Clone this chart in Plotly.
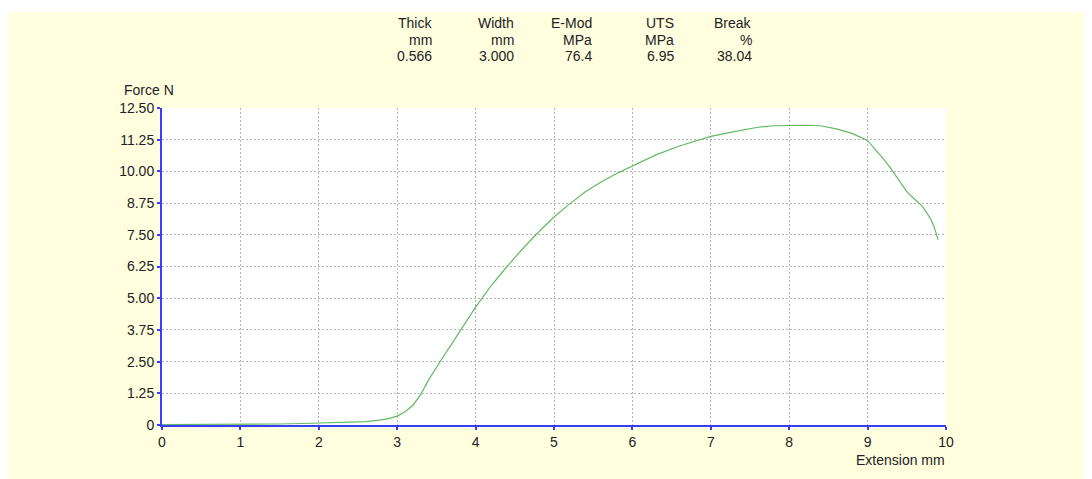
import plotly.graph_objects as go

extension_mm = [0, 0.5, 1.0, 1.5, 1.8, 2.0, 2.2, 2.4, 2.6, 2.8, 2.9, 3.0, 3.1, 3.2, 3.3, 3.4, 3.5,
                3.6, 3.7, 3.8, 3.9, 4.0, 4.2, 4.4, 4.6, 4.8, 5.0, 5.2, 5.4, 5.6, 5.8, 6.0, 6.3,
                6.6, 7.0, 7.3, 7.6, 7.8, 8.0, 8.2, 8.4, 8.6, 8.8, 9.0, 9.1, 9.2, 9.3, 9.4, 9.5,
                9.6, 9.7, 9.8, 9.85, 9.9]
force_n = [0.02, 0.02, 0.03, 0.04, 0.06, 0.07, 0.08, 0.10, 0.13, 0.20, 0.26, 0.35, 0.52, 0.78,
           1.20, 1.78, 2.28, 2.75, 3.22, 3.70, 4.18, 4.65, 5.50, 6.25, 6.95, 7.60, 8.20, 8.72,
           9.20, 9.58, 9.92, 10.22, 10.65, 11.00, 11.38, 11.57, 11.74, 11.80, 11.82, 11.82,
           11.80, 11.68, 11.50, 11.22, 10.85, 10.50, 10.10, 9.65, 9.20, 8.90, 8.62, 8.15, 7.80,
           7.30]

y_ticks = [0, 1.25, 2.5, 3.75, 5.0, 6.25, 7.5, 8.75, 10.0, 11.25, 12.5]
y_ticktext = ["0", "1.25", "2.50", "3.75", "5.00", "6.25", "7.50", "8.75", "10.00", "11.25", "12.50"]
x_ticks = list(range(0, 11))

header_cols = ["Thick", "Width", "E-Mod", "UTS", "Break"]
header_units = ["mm", "mm", "MPa", "MPa", "%"]
header_vals = ["0.566", "3.000", "76.4", "6.95", "38.04"]
header_right_px = [433, 515, 593, 675, 753]

OFF = 8  # page body margin
W, H = 1092 - OFF, 479 - OFF
L, R, T, B = 162 - OFF, 946 - OFF, 108 - OFF, 425 - OFF
pw, ph = R - L, B - T

def px(x):
    return (x - OFF - L) / pw

def py(y):
    return (B - (y - OFF)) / ph

BLUE = "#3c3cff"
YEL = "#ffffe0"
FONT = "Liberation Sans, Arial, sans-serif"
FS = 14
GRID_DASH = "2px,2px"

fig = go.Figure()
fig.add_trace(go.Scatter(x=extension_mm, y=force_n, mode="lines",
                         line=dict(color="#62ba62", width=1.2), showlegend=False,
                         hoverinfo="skip"))

ann = []
for i, c in enumerate(header_cols):
    for j, t in enumerate([c, header_units[i], header_vals[i]]):
        ann.append(dict(text=t, xref="paper", yref="paper", x=px(header_right_px[i] + 1),
                        y=py([23, 40, 56][j]), xanchor="right", yanchor="middle",
                        showarrow=False, font=dict(size=FS, color="#222", family=FONT)))
ann.append(dict(text="Force N", xref="paper", yref="paper", x=px(122), y=py(90),
                xanchor="left", yanchor="middle", showarrow=False,
                font=dict(size=FS, color="#222", family=FONT)))
ann.append(dict(text="Extension mm", xref="paper", yref="paper", x=px(947), y=py(460),
                xanchor="right", yanchor="middle", showarrow=False,
                font=dict(size=FS, color="#222", family=FONT)))

shapes = [
    dict(type="rect", xref="paper", yref="paper", x0=px(OFF - 2), x1=px(1100), y0=py(12),
         y1=py(OFF - 2), fillcolor="white", line=dict(width=0), layer="below"),
]

fig.update_layout(
    width=W, height=H,
    margin=dict(l=L, r=W - R, t=T, b=H - B),
    paper_bgcolor=YEL, plot_bgcolor="white",
    font=dict(family=FONT, size=FS, color="#222"),
    annotations=ann, shapes=shapes,
    xaxis=dict(range=[0, 10], tickvals=x_ticks, showgrid=True, gridcolor="#b4b4b4",
               griddash=GRID_DASH, gridwidth=1, zeroline=False, showline=True, linecolor=BLUE,
               linewidth=2, ticks="outside", ticklen=3, tickcolor=BLUE, tickwidth=2,
               tickfont=dict(size=FS, color="#222")),
    yaxis=dict(range=[0, 12.5], tickvals=y_ticks, ticktext=y_ticktext, showgrid=True,
               gridcolor="#b4b4b4", griddash=GRID_DASH, gridwidth=1, zeroline=False,
               showline=True, linecolor=BLUE, linewidth=2, ticks="outside", ticklen=3,
               tickcolor=BLUE, tickwidth=2, tickfont=dict(size=FS, color="#222")),
)

fig.write_html("out.html")
